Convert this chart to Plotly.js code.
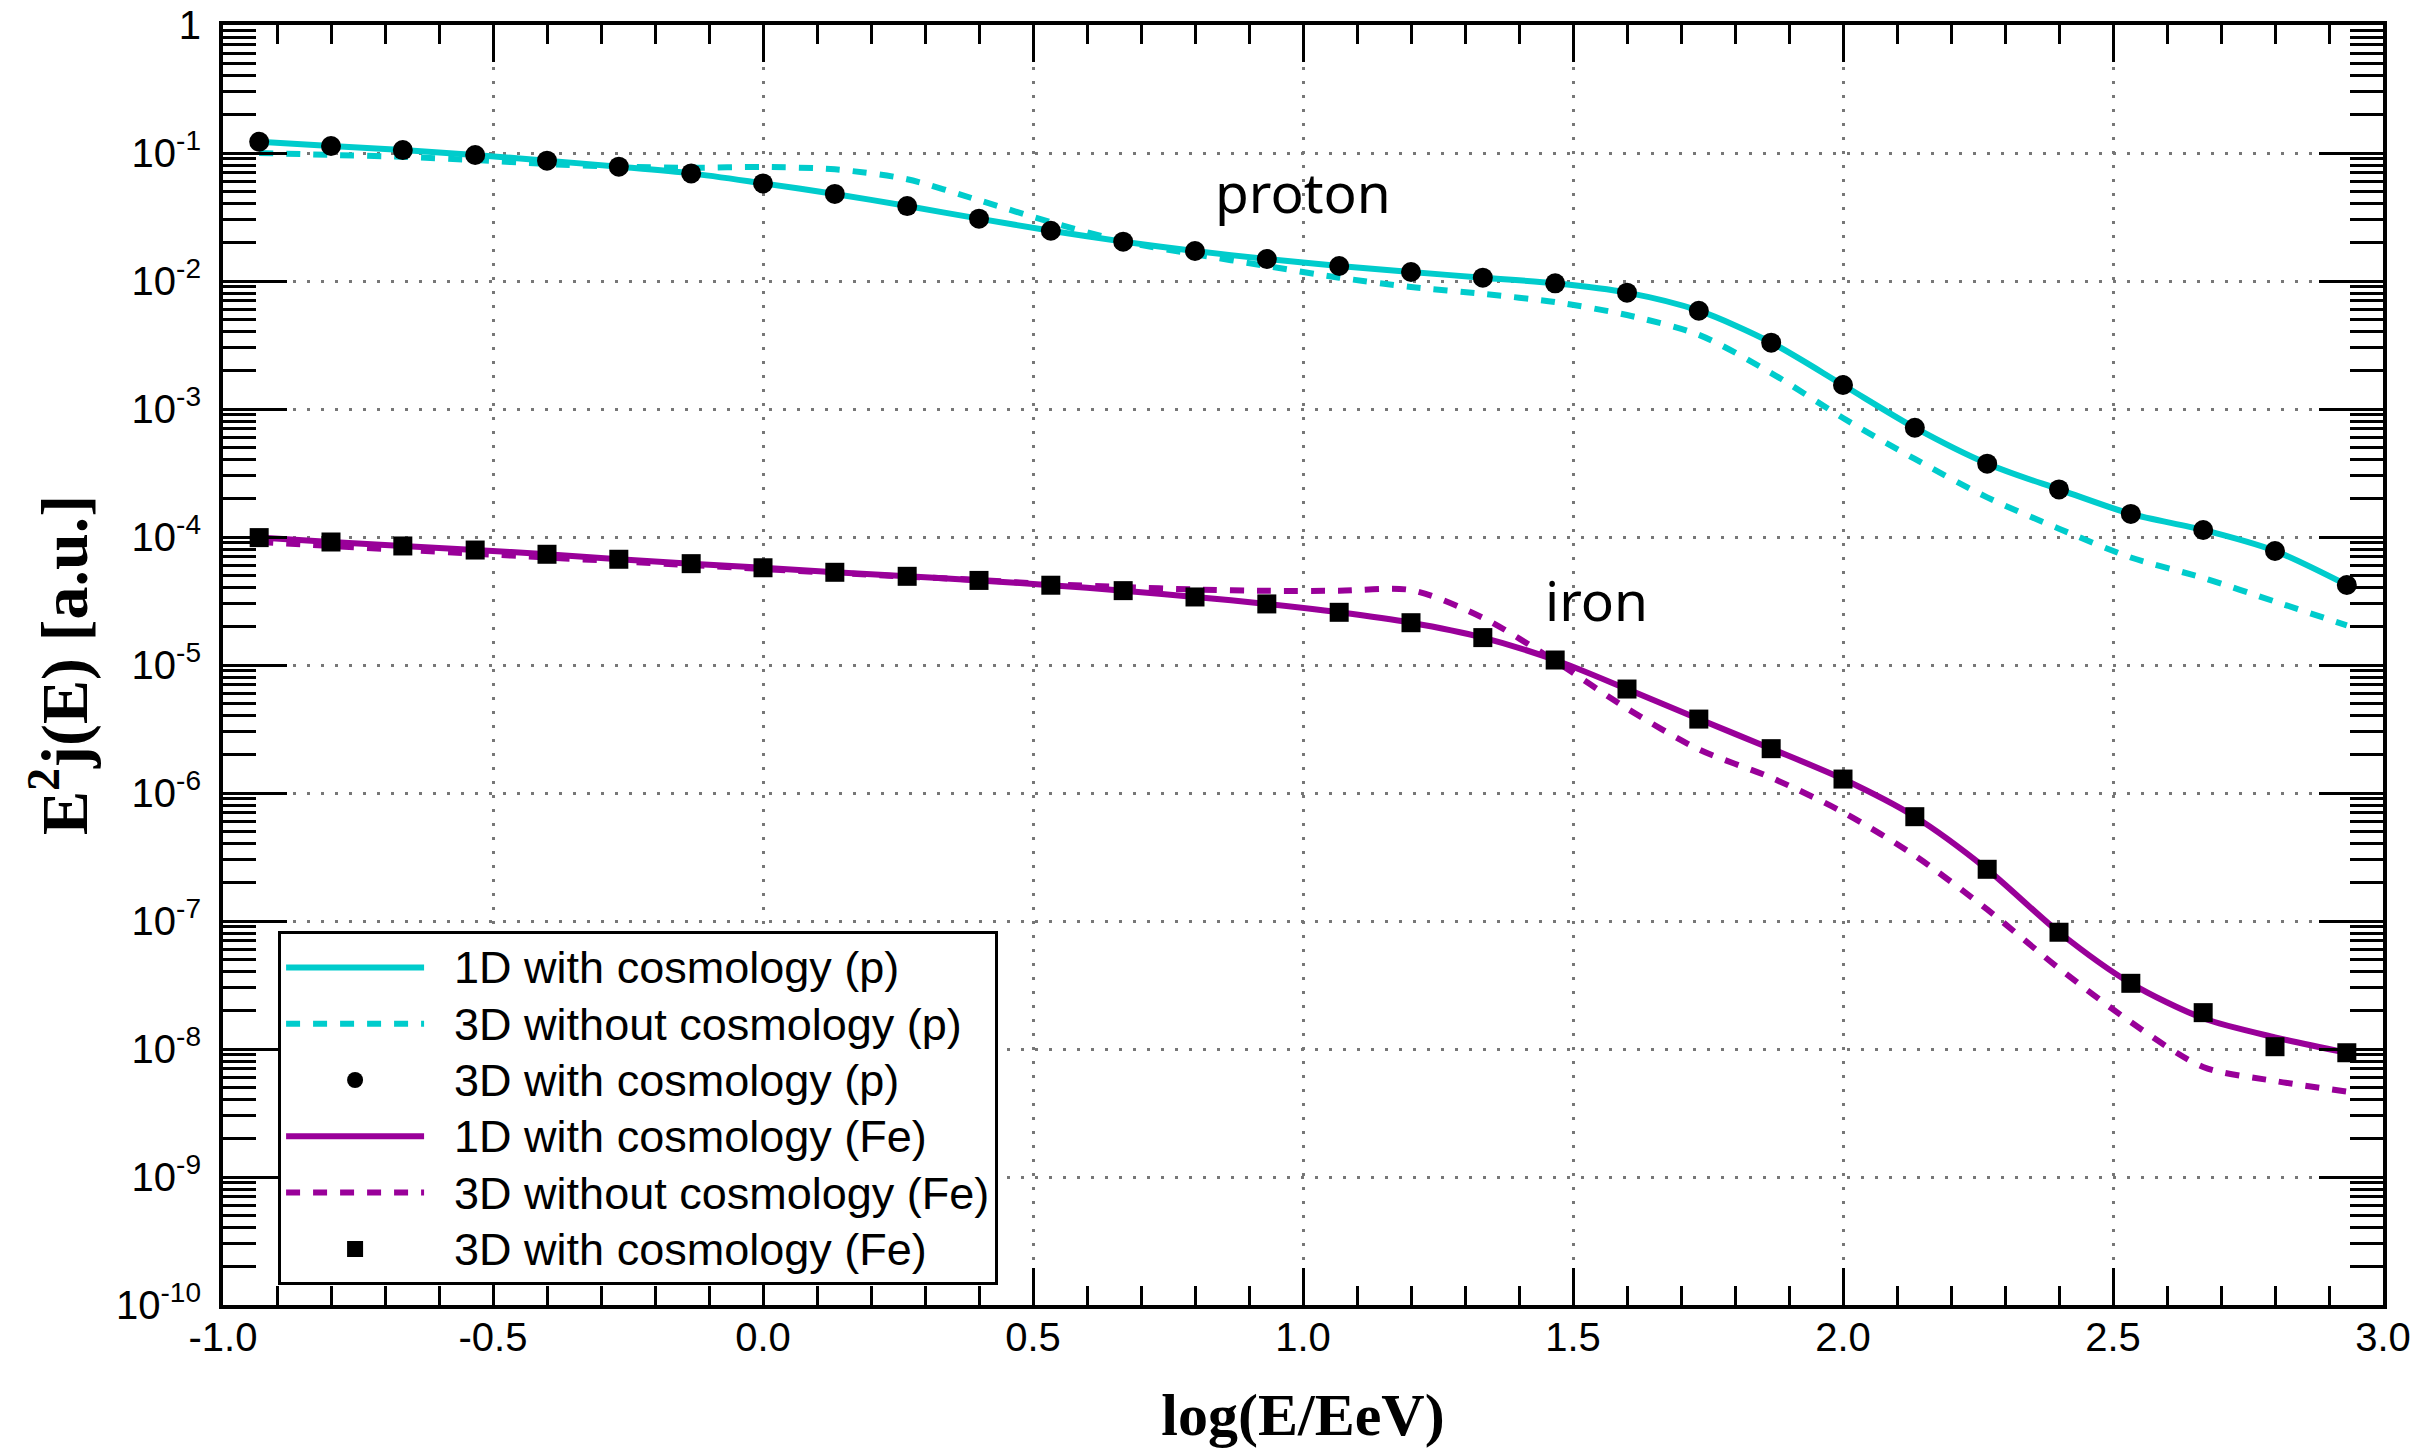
<!DOCTYPE html>
<html>
<head>
<meta charset="utf-8">
<script src="https://cdn.plot.ly/plotly-3.0.1.min.js"></script>
<style>html,body{margin:0;padding:0;background:#fff;}#chart{width:2420px;height:1451px;}</style>
</head>
<body>
<div id="chart"></div>
<script>
// log(E/EeV) sample positions
const logE = [-0.933,-0.8,-0.667,-0.533,-0.4,-0.267,-0.133,0.0,0.133,0.267,0.4,0.533,0.667,0.8,0.933,1.067,1.2,1.333,1.467,1.6,1.733,1.867,2.0,2.133,2.267,2.4,2.533,2.667,2.8,2.933];

// proton
const p1D = [0.1225,0.1135,0.1054,0.0964,0.0871,0.0782,0.0693,0.0579,0.0479,0.0385,0.0307,0.0247,0.0203,0.01714,0.01486,0.01309,0.01175,0.01062,0.00959,0.00811,0.00586,0.00330,0.00154,7.14e-4,3.74e-4,2.355e-4,1.514e-4,1.135e-4,7.78e-5,4.22e-5];
const p3Dnocosmo = [0.100,0.0966,0.0933,0.0881,0.0820,0.0782,0.0767,0.0778,0.0745,0.0624,0.0427,0.0288,0.0204,0.0162,0.01309,0.01062,0.00897,0.00794,0.00684,0.00542,0.00380,0.00191,8.51e-4,4.07e-4,2.04e-4,1.161e-4,6.92e-5,4.79e-5,3.13e-5,2.04e-5];
const p3Dcosmo = [0.1225,0.1135,0.1054,0.0964,0.0871,0.0782,0.0693,0.0579,0.0479,0.0385,0.0307,0.0247,0.0203,0.01714,0.01486,0.01309,0.01175,0.01062,0.00959,0.00811,0.00586,0.00330,0.00154,7.14e-4,3.74e-4,2.355e-4,1.514e-4,1.135e-4,7.78e-5,4.22e-5];

// iron
const fe1D = [9.89e-5,9.14e-5,8.51e-5,7.91e-5,7.33e-5,6.70e-5,6.19e-5,5.75e-5,5.30e-5,4.93e-5,4.58e-5,4.20e-5,3.81e-5,3.40e-5,3.00e-5,2.58e-5,2.14e-5,1.637e-5,1.094e-5,6.49e-6,3.78e-6,2.22e-6,1.285e-6,6.53e-7,2.535e-7,8.17e-8,3.26e-8,1.738e-8,1.233e-8,9.33e-9];
const fe3Dnocosmo = [9.12e-5,8.51e-5,7.94e-5,7.41e-5,6.92e-5,6.46e-5,6.03e-5,5.62e-5,5.25e-5,4.90e-5,4.62e-5,4.27e-5,4.07e-5,3.89e-5,3.80e-5,3.80e-5,3.85e-5,2.34e-5,1.072e-5,4.57e-6,2.19e-6,1.318e-6,7.08e-7,3.24e-7,1.23e-7,4.27e-8,1.622e-8,7.24e-9,5.62e-9,4.65e-9];
const fe3Dcosmo = [9.89e-5,9.14e-5,8.51e-5,7.91e-5,7.33e-5,6.70e-5,6.19e-5,5.75e-5,5.30e-5,4.93e-5,4.58e-5,4.20e-5,3.81e-5,3.40e-5,3.00e-5,2.58e-5,2.14e-5,1.637e-5,1.094e-5,6.49e-6,3.78e-6,2.22e-6,1.285e-6,6.53e-7,2.535e-7,8.17e-8,3.26e-8,1.923e-8,1.042e-8,9.35e-9];

const seriesNames = ["1D with cosmology (p)","3D without cosmology (p)","3D with cosmology (p)","1D with cosmology (Fe)","3D without cosmology (Fe)","3D with cosmology (Fe)"];

// tick labels
const xTickVals = [-1.0,-0.5,0.0,0.5,1.0,1.5,2.0,2.5,3.0];
const xTickText = ["-1.0","-0.5","0.0","0.5","1.0","1.5","2.0","2.5","3.0"];
const yTickVals = [1e-10,1e-9,1e-8,1e-7,1e-6,1e-5,1e-4,1e-3,1e-2,1e-1,1];
const yTickText = ["10<sup>-10</sup>","10<sup>-9</sup>","10<sup>-8</sup>","10<sup>-7</sup>","10<sup>-6</sup>","10<sup>-5</sup>","10<sup>-4</sup>","10<sup>-3</sup>","10<sup>-2</sup>","10<sup>-1</sup>","1"];

const CYAN = '#00cccc', PURPLE = '#990099';
const DASH = '14px,13px';

const yMinor = [];
for (let d = -10; d < 0; d++) for (let m = 2; m <= 9; m++) yMinor.push(m * Math.pow(10, d));

const legName = s => '<span style="font-size:45px">&nbsp;&nbsp;' + s + '</span>';

const traces = [
  {x: logE, y: p1D, name: legName(seriesNames[0]), mode: 'lines', line: {color: CYAN, width: 6, shape: 'spline', smoothing: 0.8}},
  {x: logE, y: p3Dnocosmo, name: legName(seriesNames[1]), mode: 'lines', line: {color: CYAN, width: 6, dash: DASH, shape: 'spline', smoothing: 0.8}},
  {x: logE, y: p3Dcosmo, name: legName(seriesNames[2]), mode: 'markers', marker: {color: 'black', size: 20, symbol: 'circle'}},
  {x: logE, y: fe1D, name: legName(seriesNames[3]), mode: 'lines', line: {color: PURPLE, width: 6, shape: 'spline', smoothing: 0.8}},
  {x: logE, y: fe3Dnocosmo, name: legName(seriesNames[4]), mode: 'lines', line: {color: PURPLE, width: 6, dash: DASH, shape: 'spline', smoothing: 0.8}},
  {x: logE, y: fe3Dcosmo, name: legName(seriesNames[5]), mode: 'markers', marker: {color: 'black', size: 19, symbol: 'square'}}
];

const tickFont = {family: 'Liberation Sans, Arial, sans-serif', size: 40, color: 'black'};

const layout = {
  width: 2420, height: 1451,
  margin: {l: 223, r: 37, t: 25, b: 146},
  paper_bgcolor: 'white', plot_bgcolor: 'white',
  showlegend: true,
  xaxis: {
    range: [-1, 3], tickmode: 'array', tickvals: xTickVals, ticktext: xTickText,
    ticks: 'inside', ticklen: 37, tickwidth: 3, tickcolor: 'black', ticklabelstandoff: -6,
    showline: true, linewidth: 4, linecolor: 'black', mirror: 'allticks',
    showgrid: true, gridcolor: '#777777', gridwidth: 3, griddash: '3px,11px',
    zeroline: false, tickfont: tickFont,
    minor: {dtick: 0.1, tick0: -1, ticks: 'inside', ticklen: 19, tickwidth: 3, tickcolor: 'black', showgrid: false},
    title: {text: '<b>log(E/EeV)</b>', font: {family: 'Liberation Serif, Times New Roman, serif', size: 60, color: 'black'}, standoff: 36}
  },
  yaxis: {
    type: 'log', range: [-10, 0], tickmode: 'array', tickvals: yTickVals, ticktext: yTickText,
    ticks: 'inside', ticklen: 64, tickwidth: 3, tickcolor: 'black', ticklabelstandoff: 10,
    showline: true, linewidth: 4, linecolor: 'black', mirror: 'allticks',
    showgrid: true, gridcolor: '#777777', gridwidth: 3, griddash: '3px,11px',
    zeroline: false, tickfont: tickFont,
    minor: {tickmode: 'array', tickvals: yMinor, ticks: 'inside', ticklen: 33, tickwidth: 3, tickcolor: 'black', showgrid: false},
    title: {text: '<b>E<sup>2</sup>j(E) [a.u.]</b>', font: {family: 'Liberation Serif, Times New Roman, serif', size: 66, color: 'black'}, standoff: 8}
  },
  legend: {
    x: 0.0255, y: 0.292, xanchor: 'left', yanchor: 'top',
    bgcolor: 'white', bordercolor: 'black', borderwidth: 3,
    font: {family: 'Liberation Sans, Arial, sans-serif', size: 41, color: 'black'},
    itemwidth: 138, tracegroupgap: 0
  },
  annotations: [
    {x: 1.0, y: -1.30, xref: 'x', yref: 'y', text: 'proton', showarrow: false,
     font: {family: 'Noto Sans, sans-serif', size: 55, color: 'black'}, xanchor: 'center', yanchor: 'middle'},
    {x: 1.543, y: -4.49, xref: 'x', yref: 'y', text: 'iron', showarrow: false,
     font: {family: 'Noto Sans, sans-serif', size: 55, color: 'black'}, xanchor: 'center', yanchor: 'middle'}
  ]
};

Plotly.newPlot('chart', traces, layout, {displayModeBar: false, staticPlot: true});
</script>
</body>
</html>
